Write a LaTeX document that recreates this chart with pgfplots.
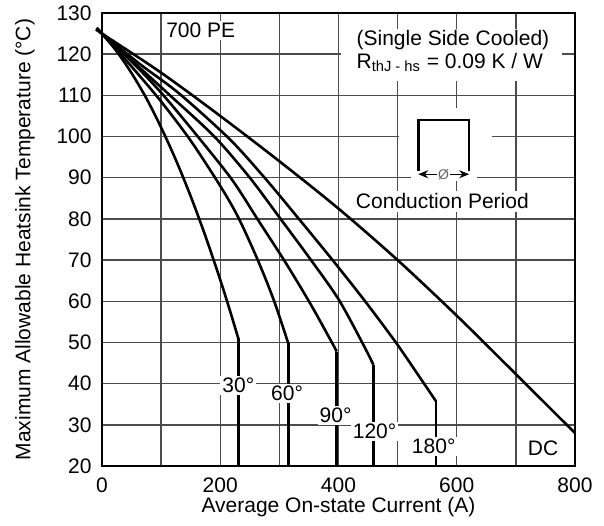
\documentclass[border=0pt]{standalone}
\usepackage{fontspec}
\setmainfont{Liberation Sans}
\usepackage{pgfplots}
\pgfplotsset{compat=1.18}
\usetikzlibrary{calc,arrows.meta}

\begin{document}
\fontsize{10.5}{12.6}\selectfont
\begin{tikzpicture}
\begin{axis}[
  scale only axis, width=236.5pt, height=226.5pt,
  xmin=0, xmax=800, ymin=20, ymax=130,
  xtick={0,200,...,800}, minor xtick={100,300,500,700},
  ytick={20,30,...,130},
  grid=both,
  major grid style={line width=0.7pt,black!70},
  minor grid style={line width=0.7pt,black!70},
  major tick length=0pt, minor tick length=0pt,
  axis line style={line width=0.8pt},
  /pgf/number format/assume math mode=true,
  xticklabel style={yshift=-2pt},
  yticklabel style={xshift=-1.5pt},
  xlabel={Average On-state Current (A)},
  ylabel={Maximum Allowable Heatsink Temperature (°C)},
  xlabel style={at={(axis description cs:0.5,-0.0905)},anchor=center},
  ylabel style={at={(axis description cs:-0.1628,0.5)},anchor=center},
  clip=false,
  every axis plot/.append style={black,line width=1.3pt,no marks},
]
% white patches behind the annotations
\fill[white] (axis cs:405,126) rectangle (axis cs:778,113.5);
\fill[white] (axis cs:502,107) rectangle (axis cs:660,92);
\fill[white] (axis cs:522,92) rectangle (axis cs:634,89.3);

% 30 deg
\addplot[smooth,tension=0.5] coordinates {(-9,126.4)(0,125)(25,120.65)(50,115.4)(75,109.3)(100,102.2)(125,94.3)(150,85.5)(175,75.8)(200,65.2)(215,58.4)(230.5,51)};
\addplot[sharp plot] coordinates {(230.5,51)(230.5,20)};
% 60 deg
\addplot[smooth,tension=0.5] coordinates {(-9,126.4)(0,125)(50,117)(100,108.5)(150,99)(200,88)(230,80.5)(262,70.5)(290,60.5)(315,49.8)};
\addplot[sharp plot] coordinates {(315,49.8)(315,20)};
% 90 deg
\addplot[smooth,tension=0.5] coordinates {(-9,126.3)(0,125)(55,117.5)(104,110)(162,100)(220,89.5)(265,79.5)(310,69.5)(352,59.5)(385,51)(397,47.8)};
\addplot[sharp plot] coordinates {(397,47.8)(397,20)};
% 120 deg
\addplot[smooth,tension=0.5] coordinates {(-9,126.2)(0,125)(60,117.2)(115,110)(190,100)(250,90)(302,80)(351,70.5)(400,60.5)(440,50)(459,44.6)};
\addplot[sharp plot] coordinates {(459,44.6)(459,20)};
% 180 deg
\addplot[smooth,tension=0.5] coordinates {(-9,126)(0,125)(65,117.5)(130,110.5)(215,99.5)(275,90)(333,80)(390,70)(445,60)(497,50)(540,41)(565,35.7)};
\addplot[sharp plot] coordinates {(565,35.7)(565,20)};
% DC
\addplot[smooth,tension=0.5] coordinates {(-9,125.9)(0,125)(100,115.5)(200,105)(300,94)(400,82.5)(500,70)(600,56.5)(700,42.3)(800,28)};
\addplot[sharp plot] coordinates {(800,28)(800,20)};

% curve labels
\node[fill=white,inner sep=1pt] at (axis cs:230.5,39.5) {30°};
\node[fill=white,inner sep=1pt] at (axis cs:313,37.7) {60°};
\node[fill=white,inner sep=1pt] at (axis cs:395,32.2) {90°};
\node[fill=white,inner sep=1pt] at (axis cs:461,28.4) {120°};
\node[fill=white,inner sep=1pt] at (axis cs:561,24.7) {180°};
\node at (axis cs:746,24.2) {DC};

% annotations
\node[fill=white,inner sep=1pt] at (axis cs:167,125.7) {700 PE};
\node[anchor=base west,inner sep=0pt] at (axis cs:430,122) {(Single Side Cooled)};
\node[anchor=base west,inner sep=0pt] at (axis cs:430,116.6) {R\textsubscript{thJ - hs} = 0.09 K / W};
\node[fill=white,inner sep=1.5pt] at (axis cs:575.7,84.25) {Conduction Period};

% conduction waveform
\draw[line width=1.3pt] (axis cs:534.8,91.6) |- (axis cs:621,104) -- (axis cs:621,91.6);
\draw[{Stealth[length=5pt,width=4pt]}-{Stealth[length=5pt,width=4pt]},line width=0.6pt]
  (axis cs:534.8,90.85) -- (axis cs:621,90.85)
  node[midway,fill=white,inner sep=0.5pt,font=\fontsize{7}{8}\selectfont,text=black!60] {Ø};
\end{axis}
\pgfresetboundingbox
\path ($(current axis.south west)+(-51pt,-29.5pt)$) rectangle ($(current axis.north east)+(14.5pt,6.5pt)$);
\end{tikzpicture}
\end{document}
